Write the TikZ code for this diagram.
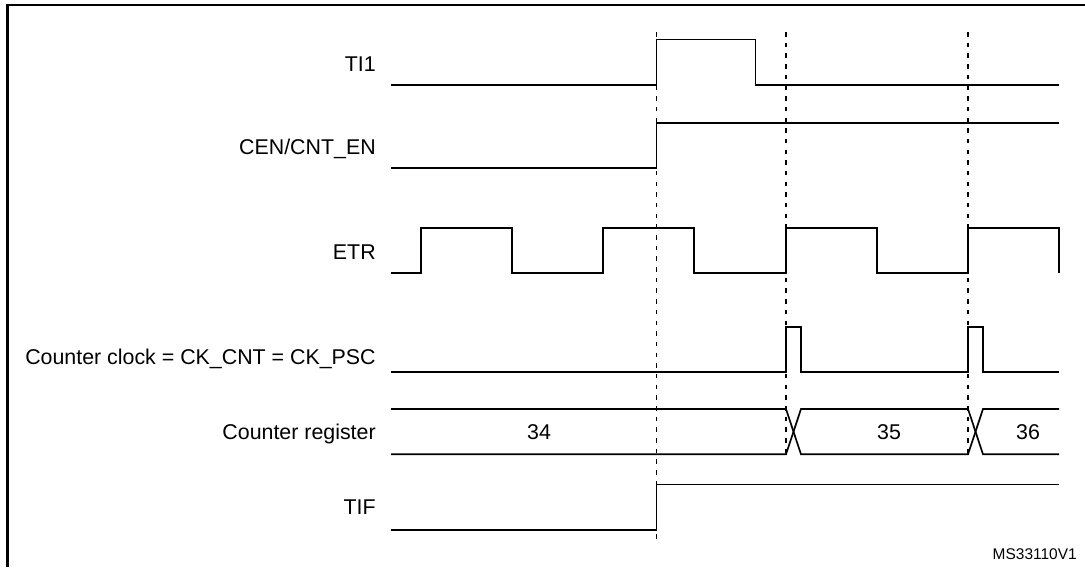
\documentclass[tikz,border=0pt]{standalone}
\usepackage{fontspec}
\setmainfont{Liberation Sans}
\begin{document}
\begin{tikzpicture}[x=0.025cm,y=-0.025cm,
    wave/.style={line width=1.2pt},
    marker/.style={line width=1.35pt,dash pattern=on 3.2pt off 4.4pt},
    sigl/.style={anchor=base east,inner sep=0pt,font=\fontsize{15.2}{18}\selectfont},
    val/.style={anchor=base,inner sep=0pt,font=\fontsize{15.2}{18}\selectfont}]
    \useasboundingbox (0,0) rectangle (1085,567);
    % frame
    \draw[line width=1.45pt] (7.5,567)--(7.5,5)--(1085,5);
    % signal names
    \node[sigl] (ti1) at (376,71) {TI1};
    \node[sigl] (cen) at (376,154) {CEN/CNT\_EN};
    \node[sigl] (etr) at (376,259.2) {ETR};
    \node[sigl] (ckcnt) at (376,364.2) {Counter clock = CK\_CNT = CK\_PSC};
    \node[sigl] (cntreg) at (376,439.2) {Counter register};
    \node[sigl] (tif) at (376,514.2) {TIF};
    % dashed markers
    \draw[marker] (656.5,32)--(656.5,544);
    \draw[marker] (786,32)--(786,454.3);
    \draw[marker] (968,32)--(968,454.3);
    % TI1
    \draw[wave] (391,85)--(656.5,85)--(656.5,39.5)--(755.5,39.5)--(755.5,85)--(1059,85);
    % CEN/CNT_EN
    \draw[wave] (391,167.7)--(656.5,167.7)--(656.5,122.7)--(1059,122.7);
    % ETR
    \draw[wave] (391,273.3) foreach \x in {421,603,786,968} {--(\x,273.3)--(\x,228.3)--(\x+91,228.3)--(\x+91,273.3)};
    % counter clock
    \draw[wave] (391,371.7) foreach \x in {786,968} {--(\x,371.7)--(\x,326.7)--(\x+15,326.7)--(\x+15,371.7)}--(1059,371.7);
    % counter register
    \draw[wave] (391,409)--(786,409)--(801,454.3)--(968,454.3)--(983,409)--(1059,409);
    \draw[wave] (391,454.3)--(786,454.3)--(801,409)--(968,409)--(983,454.3)--(1059,454.3);
    \node[val] (v34) at (539,439.2) {34};
    \node[val] (v35) at (889,439.2) {35};
    \node[val] (v36) at (1028,439.2) {36};
    % TIF
    \draw[wave] (391,530)--(656.5,530)--(656.5,484.5)--(1059,484.5);
    \node[anchor=base east,inner sep=0pt,font=\fontsize{11}{13}\selectfont] (ref) at (1077,559.5) {MS33110V1};
\end{tikzpicture}
\end{document}
